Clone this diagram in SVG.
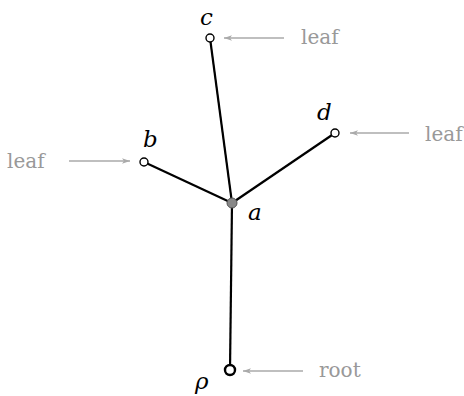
<svg xmlns="http://www.w3.org/2000/svg" width="464" height="396" viewBox="0 0 464 396">
<defs>
<style>
.edge{stroke:#000;stroke-width:2.2;fill:none}
.ann{stroke:#aaa;stroke-width:1.3;fill:none}
.leafn{fill:#fff;stroke:#000;stroke-width:1.4}
.lbl{font-family:"DejaVu Serif",serif;font-style:italic;font-size:23px;fill:#000}
.note{font-family:"DejaVu Serif",serif;font-size:20px;fill:#999}
</style>
<marker id="ah" viewBox="0 0 10 10" refX="10" refY="5" markerWidth="8" markerHeight="8" markerUnits="userSpaceOnUse" orient="auto">
<path d="M0,1.5 L10,5 L0,8.5 L2.5,5 Z" fill="#aaa"/>
</marker>
</defs>
<rect width="464" height="396" fill="#fff"/>
<g id="connectors">
<line class="edge" x1="232" y1="203" x2="210" y2="38"/>
<line class="edge" x1="232" y1="203" x2="144" y2="162"/>
<line class="edge" x1="232" y1="203" x2="335" y2="133"/>
<line class="edge" x1="232" y1="203" x2="230" y2="370"/>
<line class="ann" x1="284" y1="38" x2="224" y2="38" marker-end="url(#ah)"/>
<line class="ann" x1="69" y1="161" x2="130" y2="161" marker-end="url(#ah)"/>
<line class="ann" x1="409" y1="133" x2="350" y2="133" marker-end="url(#ah)"/>
<line class="ann" x1="303" y1="371" x2="243" y2="371" marker-end="url(#ah)"/>
</g>
<g id="node-c">
<circle class="leafn" cx="210" cy="38" r="4"/>
<text class="lbl" x="200" y="25">c</text>
<text class="note" x="301" y="44">leaf</text>
</g>
<g id="node-b">
<circle class="leafn" cx="144" cy="162" r="4"/>
<text class="lbl" x="143" y="147">b</text>
<text class="note" x="7" y="168">leaf</text>
</g>
<g id="node-d">
<circle class="leafn" cx="335" cy="133" r="4"/>
<text class="lbl" x="317" y="120">d</text>
<text class="note" x="425" y="141">leaf</text>
</g>
<g id="node-a">
<circle cx="232" cy="203" r="5" fill="#888" stroke="#555" stroke-width="1"/>
<text class="lbl" x="248" y="220">a</text>
</g>
<g id="node-root">
<circle cx="230" cy="370" r="5" fill="#fff" stroke="#000" stroke-width="2.4"/>
<text class="lbl" x="195" y="389">ρ</text>
<text class="note" x="319" y="377">root</text>
</g>
</svg>
